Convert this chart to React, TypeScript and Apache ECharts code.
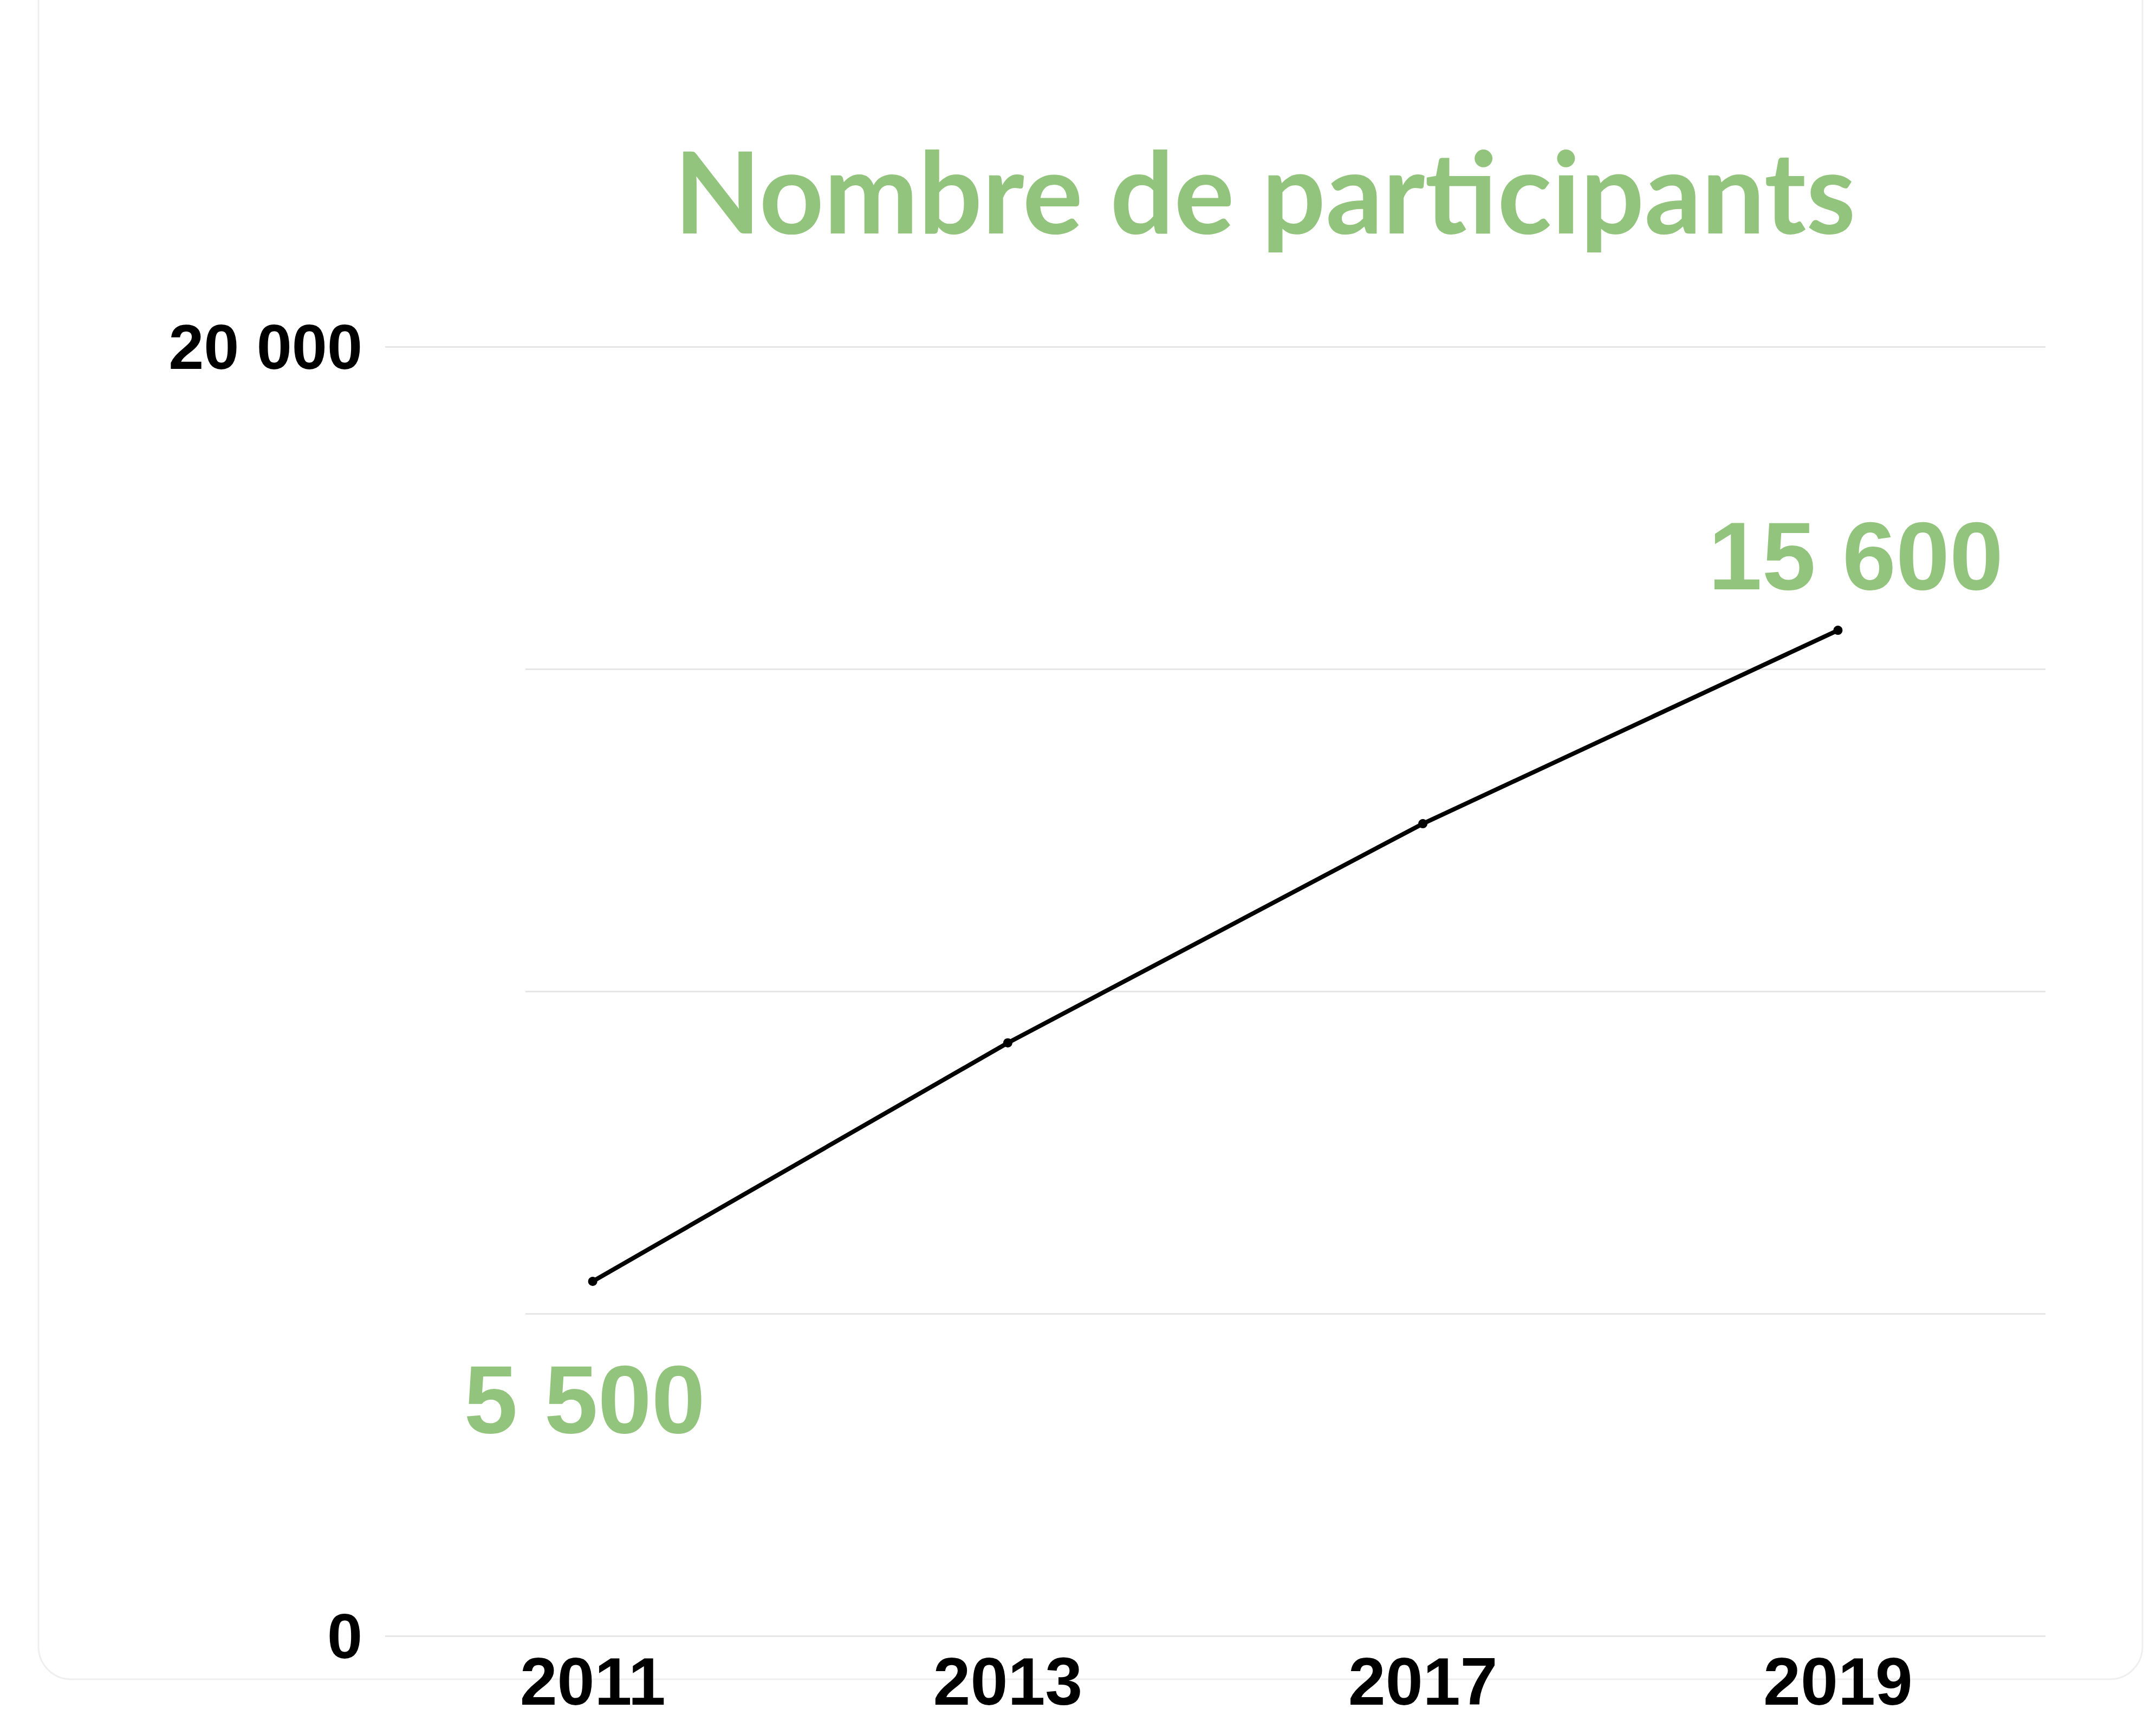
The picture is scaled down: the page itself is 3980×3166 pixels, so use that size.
import React, { useEffect, useRef } from "react";
import * as echarts from "echarts";

const titleText = "Nombre de participants";
const categories = ["2011", "2013", "2017", "2019"];
const participants = [5500, 9200, 12600, 15600];
const labeledPoints = [0, 3];
const yMin = 0;
const yMax = 20000;
const yInterval = 5000;
const shownYTicks = [0, 20000];
const hiddenTicks = [5000, 10000, 15000];

const GREEN = "#93c47d";

function fmt(v: number): string {
  return String(v).replace(/\B(?=(\d{3})+(?!\d))/g, " ");
}

export default function App() {
  const ref = useRef<HTMLDivElement>(null);
  useEffect(() => {
    document.body.style.margin = "0";
    document.body.style.overflow = "hidden";
    const chart = echarts.init(ref.current!, undefined, { renderer: "svg" });
    const labelStyles: Record<number, any> = {
      0: { position: "bottom", distance: 120, offset: [-15, 0] },
      3: { position: "top", distance: 40, offset: [33, 0] },
    };
    const seriesData = participants.map((v, i) =>
      labeledPoints.includes(i)
        ? {
            value: v,
            label: {
              show: true,
              formatter: fmt(v),
              color: GREEN,
              fontFamily: "Liberation Sans",
              fontWeight: "bold",
              fontSize: 178,
              ...labelStyles[i],
            },
          }
        : { value: v }
    );
    const baseGraphics: any[] = [
      {
        id: "card",
        type: "rect",
        z: -10,
        silent: true,
        shape: { x: 71, y: -200, width: 3955 - 71, height: 3100 + 200, r: 60 },
        style: { fill: "none", stroke: "#efefef", lineWidth: 3 },
      },
      {
        id: "title",
        type: "text",
        z: 100,
        x: 2335,
        y: 350,
        style: {
          text: titleText,
          fill: GREEN,
          font: "bold 208px Lato",
          textAlign: "center",
          textVerticalAlign: "middle",
        },
      },
    ];
    chart.setOption({
      animation: false,
      backgroundColor: "#ffffff",
      grid: { left: 711, right: 204, top: 640, bottom: 94, containLabel: false },
      graphic: baseGraphics,
      xAxis: {
        type: "category",
        data: categories,
        boundaryGap: true,
        axisLine: { show: false },
        axisTick: { show: false },
        splitLine: { show: false },
        axisLabel: {
          color: "#000000",
          fontFamily: "Liberation Sans",
          fontWeight: "bold",
          fontSize: 124,
          margin: 22,
        },
      },
      yAxis: {
        type: "value",
        min: yMin,
        max: yMax,
        interval: yInterval,
        axisLine: { show: false },
        axisTick: { show: false },
        splitLine: { show: true, lineStyle: { color: "#e6e6e6", width: 3 } },
        axisLabel: {
          color: "#000000",
          fontFamily: "Liberation Sans",
          fontWeight: "bold",
          fontSize: 117,
          margin: 42,
          formatter: (v: number) => (shownYTicks.includes(v) ? fmt(v) : ""),
        },
      },
      series: [
        {
          type: "line",
          data: seriesData,
          symbol: "circle",
          symbolSize: 17,
          showSymbol: true,
          lineStyle: { color: "#000000", width: 8 },
          itemStyle: { color: "#000000" },
          label: { show: false },
          z: 5,
        },
      ],
    });
    // white masks that hide the start of the middle grid lines, as in the reference
    const masks = hiddenTicks.map((t, k) => {
      const y = chart.convertToPixel({ yAxisIndex: 0 }, t) as number;
      return {
        id: "mask" + k,
        type: "rect",
        z: 100,
        silent: true,
        shape: { x: 700, y: y - 10, width: 270, height: 20 },
        style: { fill: "#ffffff" },
      };
    });
    chart.setOption({ graphic: [...baseGraphics, ...masks] });
    return () => chart.dispose();
  }, []);
  return <div ref={ref} style={{ width: 3980, height: 3166 }} />;
}
